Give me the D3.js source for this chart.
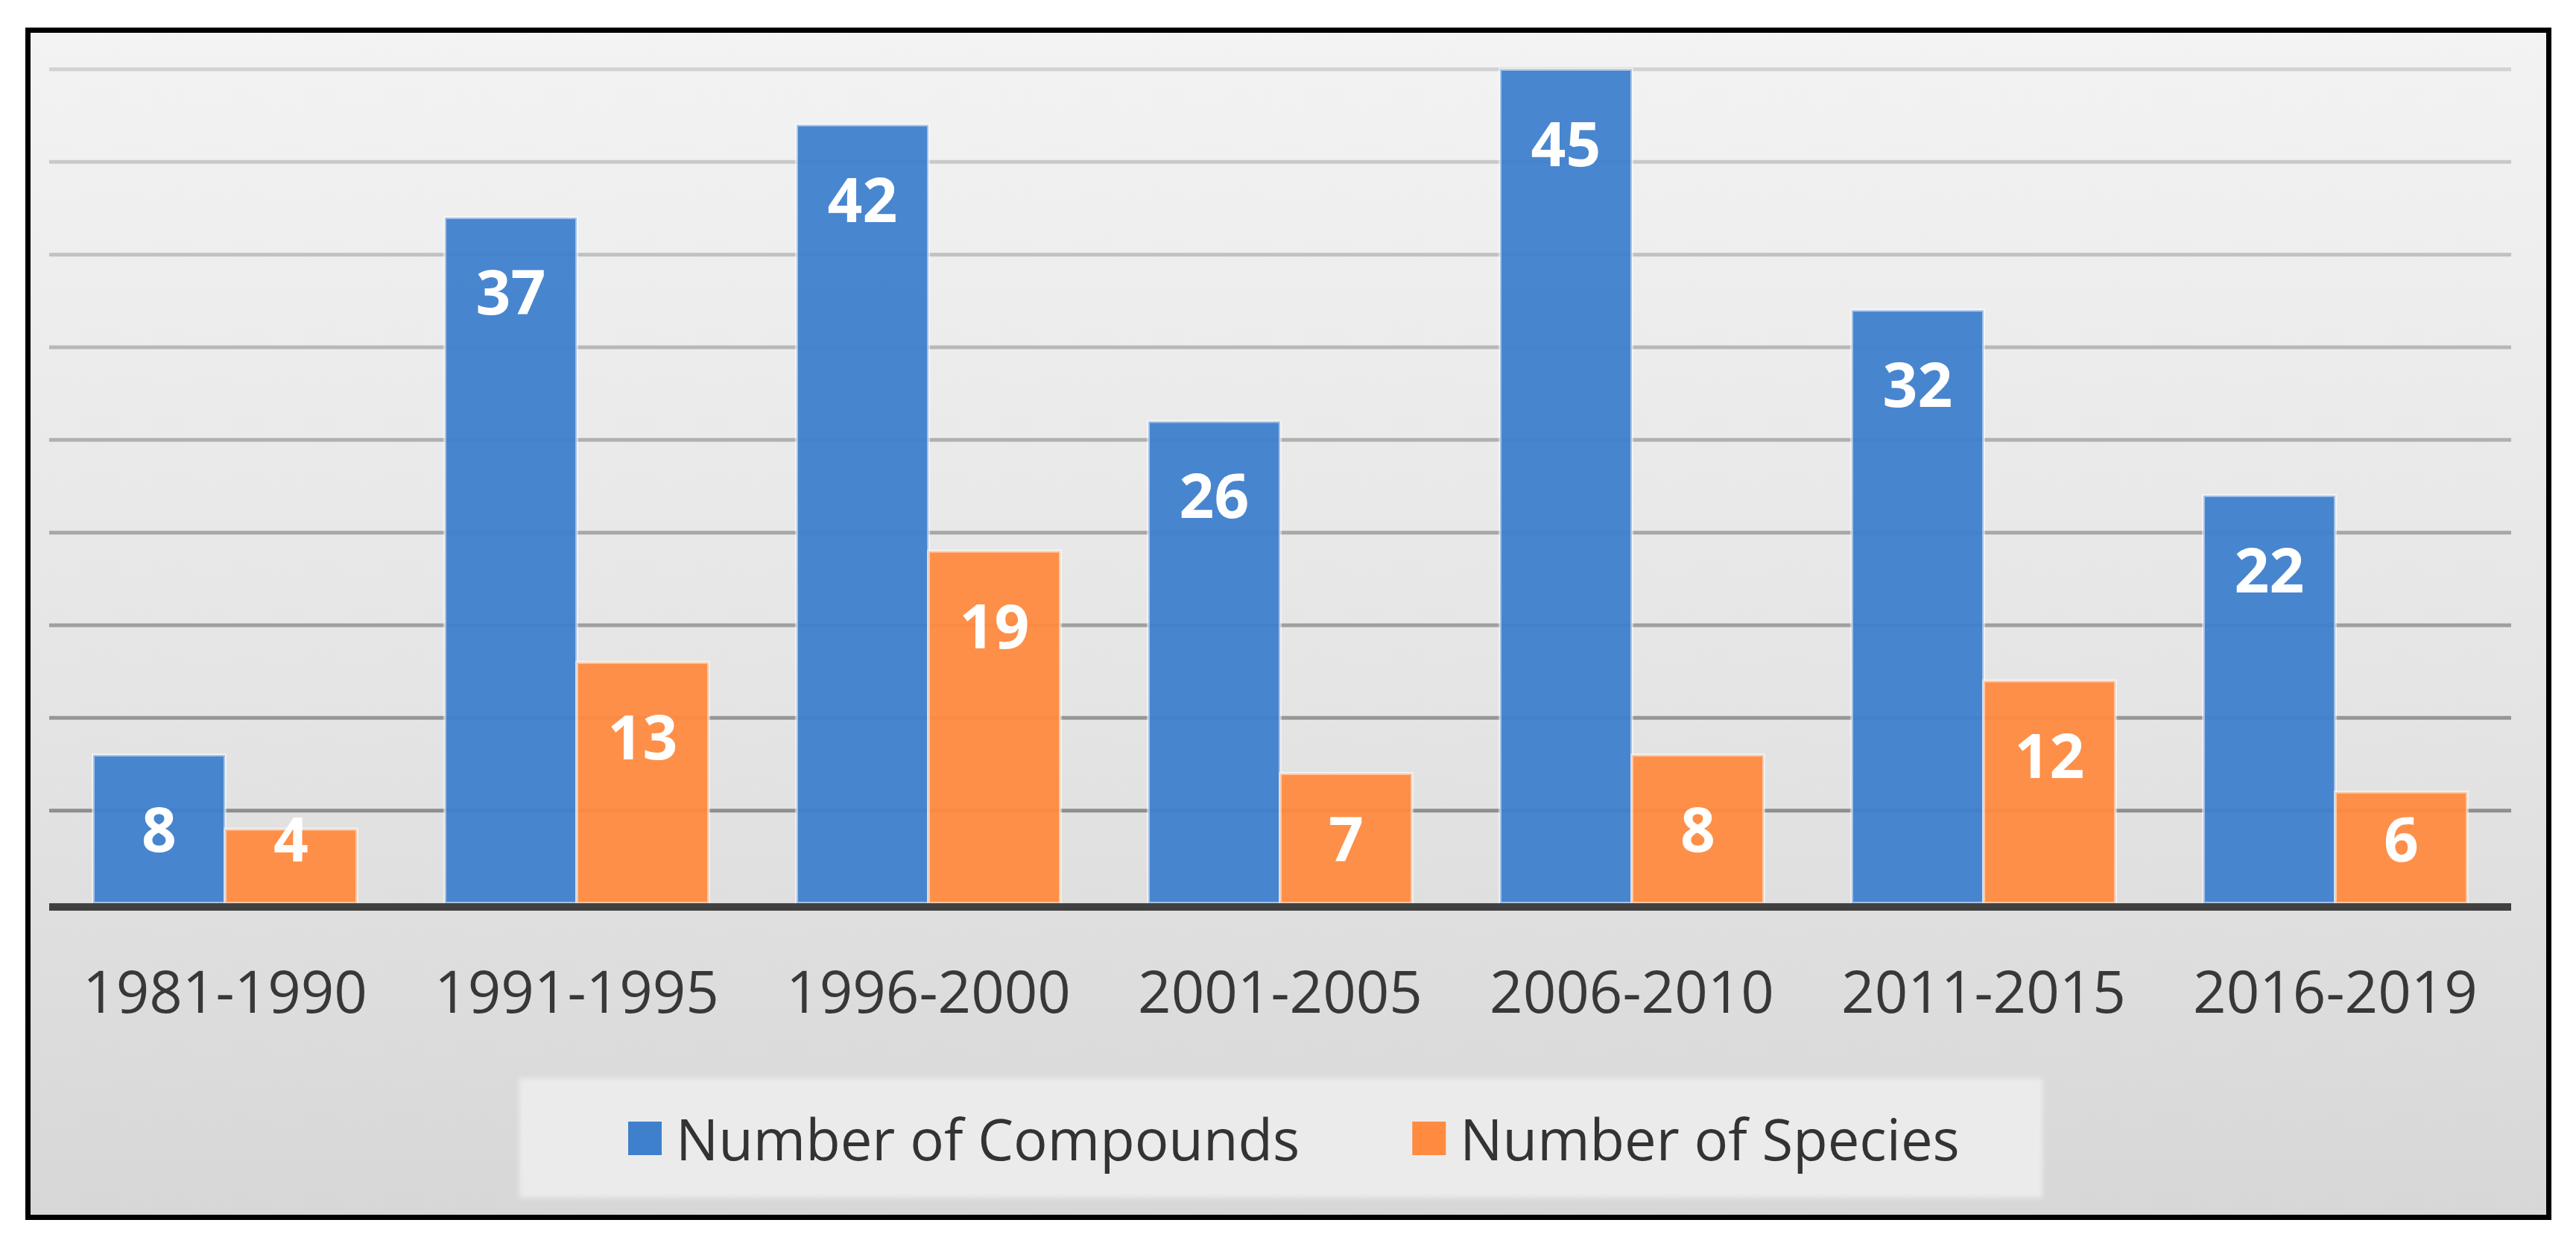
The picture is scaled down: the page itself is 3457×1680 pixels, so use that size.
<!DOCTYPE html>
<html>
<head>
<meta charset="utf-8">
<script src="https://cdn.jsdelivr.net/npm/d3@7"></script>
<style>
  body { margin: 0; background: white; }
</style>
</head>
<body>
<div id="chart"></div>
<script>
const periods = ["1981-1990", "1991-1995", "1996-2000", "2001-2005", "2006-2010", "2011-2015", "2016-2019"];
const compounds = [8, 37, 42, 26, 45, 32, 22];
const species = [4, 13, 19, 7, 8, 12, 6];
const seriesNames = ["Number of Compounds", "Number of Species"];
const gridTicks = [5, 10, 15, 20, 25, 30, 35, 40, 45];

const width = 3457, height = 1680;
const plot = {left: 66, right: 3370, top: 93, bottom: 1212};
const colors = ["#3f80cd", "#ff8a40"];

const svg = d3.select("#chart")
  .append("svg")
  .attr("width", width)
  .attr("height", height);

const defs = svg.append("defs");

// background fade, lighter at the top
const bg = defs.append("linearGradient")
  .attr("id", "bg")
  .attr("x1", 0).attr("y1", 0).attr("x2", 0).attr("y2", 1);
bg.append("stop").attr("offset", "0%").attr("stop-color", "#f3f3f3");
bg.append("stop").attr("offset", "55%").attr("stop-color", "#e5e5e5");
bg.append("stop").attr("offset", "100%").attr("stop-color", "#d7d7d7");

defs.append("filter").attr("id", "soft")
  .append("feGaussianBlur").attr("stdDeviation", 3);

svg.append("rect")
  .attr("x", 37.5)
  .attr("y", 40.5)
  .attr("width", 3383)
  .attr("height", 1593)
  .attr("fill", "url(#bg)")
  .attr("stroke", "black")
  .attr("stroke-width", 7);

const data = periods.map(function(p, i) {
  return {period: p, values: [compounds[i], species[i]]};
});

const x = d3.scaleBand()
  .domain(periods)
  .range([plot.left, plot.right])
  .paddingInner(0.25)
  .paddingOuter(0.125);

const xSub = d3.scaleBand()
  .domain([0, 1])
  .range([0, x.bandwidth()]);

const y = d3.scaleLinear()
  .domain([0, 45])
  .range([plot.bottom, plot.top]);

// gridlines get darker lower down
const gridColor = d3.scaleLinear()
  .domain([45, 0])
  .range(["#d2d2d2", "#858585"]);

svg.append("g")
  .selectAll("line")
  .data(gridTicks)
  .enter()
  .append("line")
  .attr("x1", plot.left)
  .attr("x2", plot.right)
  .attr("y1", function(d) { return y(d); })
  .attr("y2", function(d) { return y(d); })
  .attr("stroke", function(d) { return gridColor(d); })
  .attr("stroke-width", 5);

// bars
const groups = svg.append("g")
  .selectAll("g")
  .data(data)
  .enter()
  .append("g")
  .attr("transform", function(d) { return "translate(" + x(d.period) + ",0)"; });

groups.selectAll("rect")
  .data(function(d) { return d.values; })
  .enter()
  .append("rect")
  .attr("x", function(d, i) { return xSub(i); })
  .attr("y", function(d) { return y(d); })
  .attr("width", xSub.bandwidth())
  .attr("height", function(d) { return y(0) - y(d); })
  .attr("fill", function(d, i) { return colors[i]; })
  .attr("fill-opacity", 0.95)
  .attr("stroke", "rgba(255,255,255,0.5)")
  .attr("stroke-width", 4);

// value labels, inside end but kept off the axis
groups.selectAll("text")
  .data(function(d) { return d.values; })
  .enter()
  .append("text")
  .attr("x", function(d, i) { return xSub(i) + xSub.bandwidth() / 2; })
  .attr("y", function(d) { return Math.min(y(d) + 98, y(0) - 88); })
  .attr("text-anchor", "middle")
  .attr("dominant-baseline", "central")
  .attr("fill", "white")
  .style("font-family", "'Open Sans', sans-serif")
  .style("font-weight", "bold")
  .style("font-size", "82px")
  .text(function(d) { return d; });

// axis line
svg.append("line")
  .attr("x1", plot.left)
  .attr("x2", plot.right)
  .attr("y1", y(0) + 5)
  .attr("y2", y(0) + 5)
  .attr("stroke", "#404040")
  .attr("stroke-width", 10);

const xAxis = svg.append("g")
  .attr("transform", "translate(0," + (y(0) + 10) + ")")
  .call(d3.axisBottom(x).tickSize(0).tickPadding(82));
xAxis.select(".domain").remove();
xAxis.selectAll("text")
  .attr("fill", "#383838")
  .style("font-family", "'Open Sans', sans-serif")
  .style("font-size", "78px");

// legend
svg.append("rect")
  .attr("x", 697)
  .attr("y", 1447)
  .attr("width", 2044)
  .attr("height", 160)
  .attr("fill", "#ebebeb")
  .attr("filter", "url(#soft)");

const legend = svg.append("g");
let legendX = 843;
seriesNames.forEach(function(name, i) {
  legend.append("rect")
    .attr("x", legendX)
    .attr("y", 1505)
    .attr("width", 45)
    .attr("height", 45)
    .attr("fill", colors[i]);
  const t = legend.append("text")
    .attr("x", legendX + 64)
    .attr("y", 1527)
    .attr("dominant-baseline", "central")
    .attr("fill", "#333333")
    .style("font-family", "'Open Sans', sans-serif")
    .style("font-size", "76px")
    .text(name);
  legendX += 64 + t.node().getComputedTextLength() + 151;
});
</script>
</body>
</html>
